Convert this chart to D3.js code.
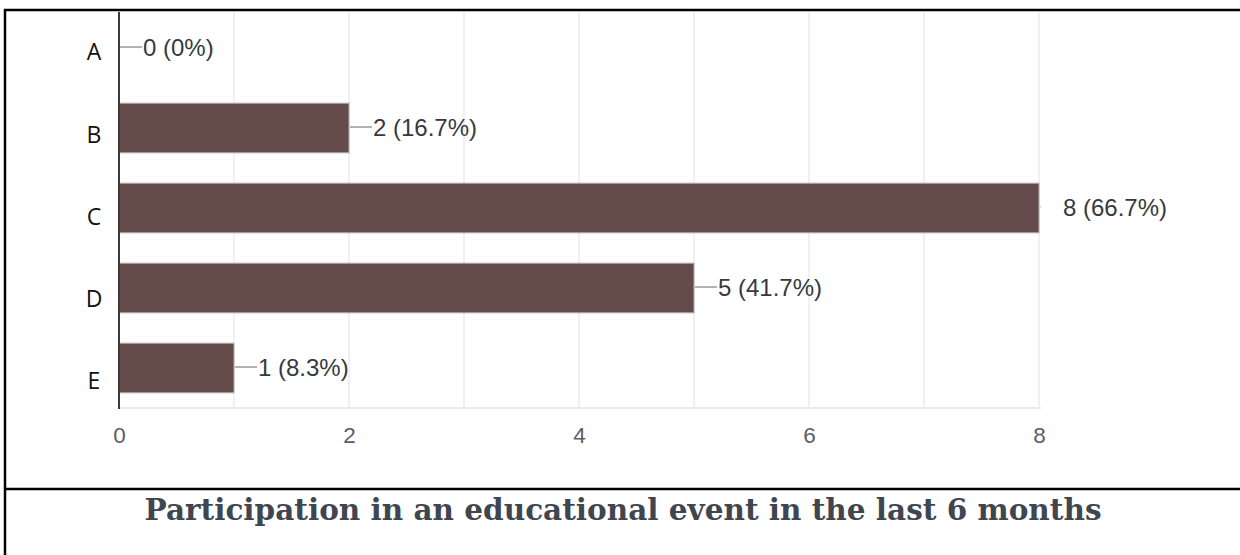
<!DOCTYPE html>
<html><head><meta charset="utf-8">
<script src="https://cdn.jsdelivr.net/npm/d3@7"></script>
<style>html,body{margin:0;padding:0;background:#fff;}svg{display:block;}</style>
</head><body>
<svg id="chart" width="1240" height="555"></svg>
<script>
const categories = ["A", "B", "C", "D", "E"];
const counts = [0, 2, 8, 5, 1];
const percents = ["0%", "16.7%", "66.7%", "41.7%", "8.3%"];
const tickValues = [0, 2, 4, 6, 8];
const titleText = "Participation in an educational event in the last 6 months";

const svg = d3.select("#chart");
const x = d3.scaleLinear().domain([0, 8]).range([119, 1039]);
const y = d3.scaleBand().domain(categories).range([8, 408]).paddingInner(0.38).paddingOuter(0.19);
const yLab = d3.scalePoint().domain(categories).range([52, 381]);

// frame
svg.append("line").attr("x1", 4).attr("x2", 1240).attr("y1", 10).attr("y2", 10).attr("stroke", "#000").attr("stroke-width", 2.5);
svg.append("line").attr("x1", 5).attr("x2", 5).attr("y1", 9).attr("y2", 555).attr("stroke", "#000").attr("stroke-width", 2.5);
svg.append("line").attr("x1", 4).attr("x2", 1240).attr("y1", 489).attr("y2", 489).attr("stroke", "#000").attr("stroke-width", 2.5);

// gridlines
svg.append("g").selectAll("line").data(d3.range(1, 9)).join("line")
  .attr("x1", d => x(d)).attr("x2", d => x(d)).attr("y1", 12).attr("y2", 408)
  .attr("stroke", "#f0f0f0").attr("stroke-width", 2);
svg.append("line").attr("x1", x(0)).attr("x2", x(8) + 2).attr("y1", 408).attr("y2", 408)
  .attr("stroke", "#ebebeb").attr("stroke-width", 2);

// bars
svg.append("g").selectAll("rect").data(categories).join("rect")
  .attr("x", x(0)).attr("y", d => y(d))
  .attr("width", (d, i) => x(counts[i]) - x(0)).attr("height", y.bandwidth())
  .attr("fill", "#654c4b").attr("stroke", "#b3abab").attr("stroke-width", 1)
  .attr("display", (d, i) => counts[i] > 0 ? null : "none");

// axis line
svg.append("line").attr("x1", x(0)).attr("x2", x(0)).attr("y1", 12).attr("y2", 409)
  .attr("stroke", "#3a3a3a").attr("stroke-width", 2);

// value leaders and labels
const vg = svg.append("g");
categories.forEach((c, i) => {
  const cy = y(c) + y.bandwidth() / 2 - 1;
  const x0 = x(counts[i]);
  const x1 = Math.min(x0 + 23, x(8) + 1.5);
  if (x1 > x0 + 1) {
    vg.append("line").attr("x1", x0 + 1).attr("x2", x1).attr("y1", cy).attr("y2", cy)
      .attr("stroke", "#999").attr("stroke-width", 1.5);
  } else {
    vg.append("line").attr("x1", x0).attr("x2", x0 + 1.5).attr("y1", cy).attr("y2", cy)
      .attr("stroke", "#bbb").attr("stroke-width", 1.5);
  }
  vg.append("text").attr("x", x0 + 24).attr("y", cy).attr("dy", "0.36em")
    .attr("font-family", "Liberation Sans, Arial, sans-serif").attr("font-size", 24)
    .attr("fill", "#363a40").text(`${counts[i]} (${percents[i]})`);
});

// category labels
svg.append("g").selectAll("text").data(categories).join("text")
  .attr("x", 94).attr("y", d => yLab(d)).attr("dy", "0.36em").attr("text-anchor", "middle")
  .attr("font-family", "Open Sans, sans-serif").attr("font-size", 23)
  .attr("fill", "#111").text(d => d);

// x tick labels
const xAxis = d3.axisBottom(x).tickValues(tickValues).tickSize(0).tickPadding(0).tickFormat(d3.format("d"));
const ax = svg.append("g").attr("transform", "translate(0,427)").call(xAxis);
ax.select(".domain").remove();
ax.selectAll("text").attr("font-family", "Liberation Sans, Arial, sans-serif").attr("font-size", 22.5)
  .attr("fill", "#5a5e66").attr("dy", "0.71em");

// title
svg.append("text").attr("x", 623).attr("y", 520).attr("text-anchor", "middle")
  .attr("font-family", "DejaVu Serif, serif").attr("font-weight", "bold").attr("font-size", 30)
  .attr("fill", "#404650").attr("textLength", 957).attr("lengthAdjust", "spacingAndGlyphs")
  .text(titleText);
</script>
</body></html>
